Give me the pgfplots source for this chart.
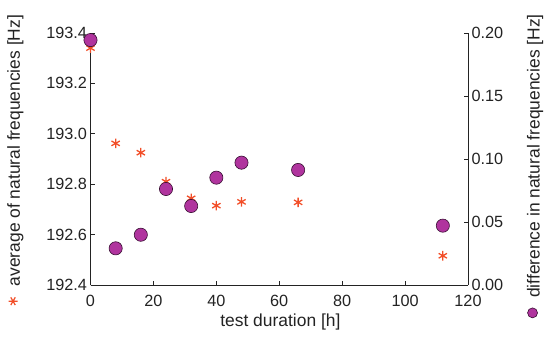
\documentclass[border=0pt]{standalone}
\usepackage{pgfplots}
\pgfplotsset{compat=1.18}
\usepackage{fontspec}
\setmainfont{Liberation Sans}
\definecolor{starc}{RGB}{242,78,40}
\definecolor{circf}{RGB}{176,52,158}
\definecolor{circd}{RGB}{55,15,50}
\definecolor{axc}{RGB}{35,35,35}
\begin{document}
\begin{tikzpicture}
\useasboundingbox (0,0) rectangle (550bp,339bp);
\pgfplotsset{common/.style={scale only axis, width=377.5bp, height=252bp,
  at={(90.5bp,54bp)}, anchor=south west, xmin=0, xmax=120, clip=false,
  tick align=inside, major tick length=4.5bp,
  axis line style={axc, line width=0.9pt}, tick style={axc, line width=0.9pt},
  ticklabel style={font=\fontsize{16.3}{18}\selectfont, text=axc},
  label style={font=\fontsize{17.5}{20}\selectfont, text=axc},
  /pgf/number format/assume math mode=true,
  scaled y ticks=false}}
\begin{axis}[common, axis x line*=bottom, axis y line*=left,
  ymin=192.4, ymax=193.4,
  ytick={192.4,192.6,192.8,193.0,193.2,193.4},
  yticklabel style={/pgf/number format/.cd, fixed, fixed zerofill, precision=1},
  xtick={0,20,40,60,80,100,120},
  xticklabel style={yshift=-6.5bp},
  xlabel={test duration [h]},
  xlabel style={at={(axis description cs:0.503,-0.147)}, anchor=center},
  ylabel={\tikz[baseline={(0pt,-0.4em)}]{\pgfsetplotmarksize{4.5bp}\pgfsetlinewidth{1.2pt}\pgfsetstrokecolor{starc}\pgfuseplotmark{asterisk}}\hspace{11bp}average of natural frequencies [Hz]},
  ylabel style={at={(axis description cs:-0.1987,0.496)}, anchor=center}]
\addplot[only marks, mark=asterisk, mark size=4.8bp, color=starc, line width=1.3pt] coordinates {
(0,193.34) (8,192.962) (16,192.925) (24,192.81) (32,192.744)
(40,192.715) (48,192.73) (66,192.728) (112,192.516)};
\end{axis}
\begin{axis}[common, axis y line*=right, axis x line=none,
  ymin=0, ymax=0.2,
  ytick={0,0.05,0.10,0.15,0.20},
  yticklabel style={/pgf/number format/.cd, fixed, fixed zerofill, precision=2},
  ylabel={\tikz[baseline={(0pt,-0.4em)}]{\pgfsetplotmarksize{5bp}\pgfsetlinewidth{0.6pt}\pgfsetstrokecolor{circd}\pgfsetfillcolor{circf}\pgfuseplotmark{*}}\hspace{10bp}difference in natural frequencies [Hz]},
  ylabel style={at={(axis description cs:1.1775,0.472)}, anchor=center}]
\addplot[only marks, mark=*, mark size=6.6bp, mark options={fill=circf, draw=circd, line width=0.6pt}] coordinates {
(0,0.1944) (8,0.0291) (16,0.0399) (24,0.0762) (32,0.0627)
(40,0.0852) (48,0.0971) (66,0.0913) (112,0.0471)};
\end{axis}
\end{tikzpicture}
\end{document}
